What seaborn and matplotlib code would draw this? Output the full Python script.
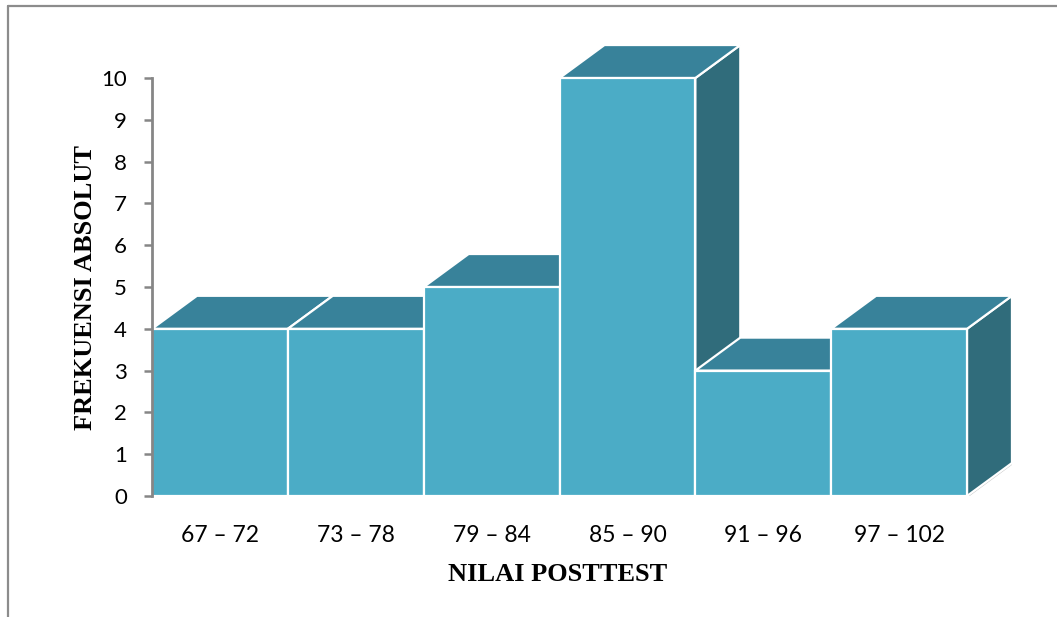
import matplotlib
matplotlib.use("Agg")
import matplotlib.pyplot as plt
from matplotlib.patches import Polygon
from matplotlib.lines import Line2D
import seaborn as sns
import pandas as pd

# Frequency distribution of post-test scores
categories = ["67 – 72", "73 – 78", "79 – 84", "85 – 90", "91 – 96", "97 – 102"]
frequencies = [4, 4, 5, 10, 3, 4]
y_ticks = [0, 1, 2, 3, 4, 5, 6, 7, 8, 9, 10]

FRONT = "#4bacc6"
TOP = "#38829a"
SIDE = "#306c7b"
AXIS_GREY = "#868686"

# depth of the 3-D extrusion in data units
DX, DY = 0.331, 0.79

sns.set_theme(style="white")
plt.rcParams["font.family"] = ["Lato", "DejaVu Sans"]

fig = plt.figure(figsize=(10.57, 6.17), dpi=100)
ax = fig.add_axes([0.1438, 0.1961, 0.8136, 0.7316])

df = pd.DataFrame({"kelas": categories, "frekuensi": frequencies})
sns.barplot(data=df, x="kelas", y="frekuensi", color=FRONT, saturation=1,
            width=1.0, edgecolor="white", linewidth=1.6, ax=ax)

# top and right faces, stacked left to right so later bars overlap earlier ones
for i, (bar, h) in enumerate(zip(ax.patches, frequencies)):
    x0 = bar.get_x()
    x1 = x0 + bar.get_width()
    top = Polygon([(x0, h), (x0 + DX, h + DY), (x1 + DX, h + DY), (x1, h)],
                  closed=True, facecolor=TOP, edgecolor="white", linewidth=1.6,
                  zorder=2 + 3 * i)
    side = Polygon([(x1, 0), (x1, h), (x1 + DX, h + DY), (x1 + DX, DY)],
                   closed=True, facecolor=SIDE, edgecolor="white", linewidth=1.6,
                   zorder=2 + 3 * i)
    ax.add_patch(side)
    ax.add_patch(top)
    bar.set_zorder(3 + 3 * i)

# floor edge
n = len(categories)
ax.plot([-0.5, n - 0.5, n - 0.5 + DX], [0, 0, DY], color="#c4c4c4",
        linewidth=2.2, zorder=1, solid_capstyle="butt")

ax.set_xlim(-0.5, n - 0.5 + DX)
ax.set_ylim(0, 10 + DY + 0.01)
ax.set_yticks(y_ticks)
ax.set_yticklabels([str(t) for t in y_ticks])

for s in ["top", "right", "bottom"]:
    ax.spines[s].set_visible(False)
ax.spines["left"].set_color(AXIS_GREY)
ax.spines["left"].set_linewidth(2)
ax.spines["left"].set_bounds(0, 10)
ax.spines["left"].set_zorder(50)

ax.tick_params(axis="y", which="major", left=True, length=6, width=1.8,
               color=AXIS_GREY, pad=12, labelsize=16, labelcolor="black")
ax.tick_params(axis="x", which="major", bottom=False, pad=15,
               labelsize=16.5, labelcolor="black")

serif_bold = dict(family=["Liberation Serif", "DejaVu Serif"], weight="bold",
                  size=19, color="black")
ax.set_xlabel("NILAI POSTTEST", **serif_bold)
ax.set_ylabel("FREKUENSI ABSOLUT", **serif_bold)
ax.xaxis.label.set_va("center")
ax.yaxis.label.set_va("center")
ax.xaxis.set_label_coords(0.472, -0.173)
ax.yaxis.set_label_coords(-0.077, 0.462)

# outer frame lines along the top and left edges
fig.add_artist(Line2D([8 / 1057, 1.0], [1 - 6 / 617, 1 - 6 / 617],
                      transform=fig.transFigure, color="#8c8c8c", linewidth=1.6))
fig.add_artist(Line2D([8 / 1057, 8 / 1057], [0.0, 1 - 6 / 617],
                      transform=fig.transFigure, color="#8c8c8c", linewidth=1.6))

fig.savefig("out.png", dpi=100)
